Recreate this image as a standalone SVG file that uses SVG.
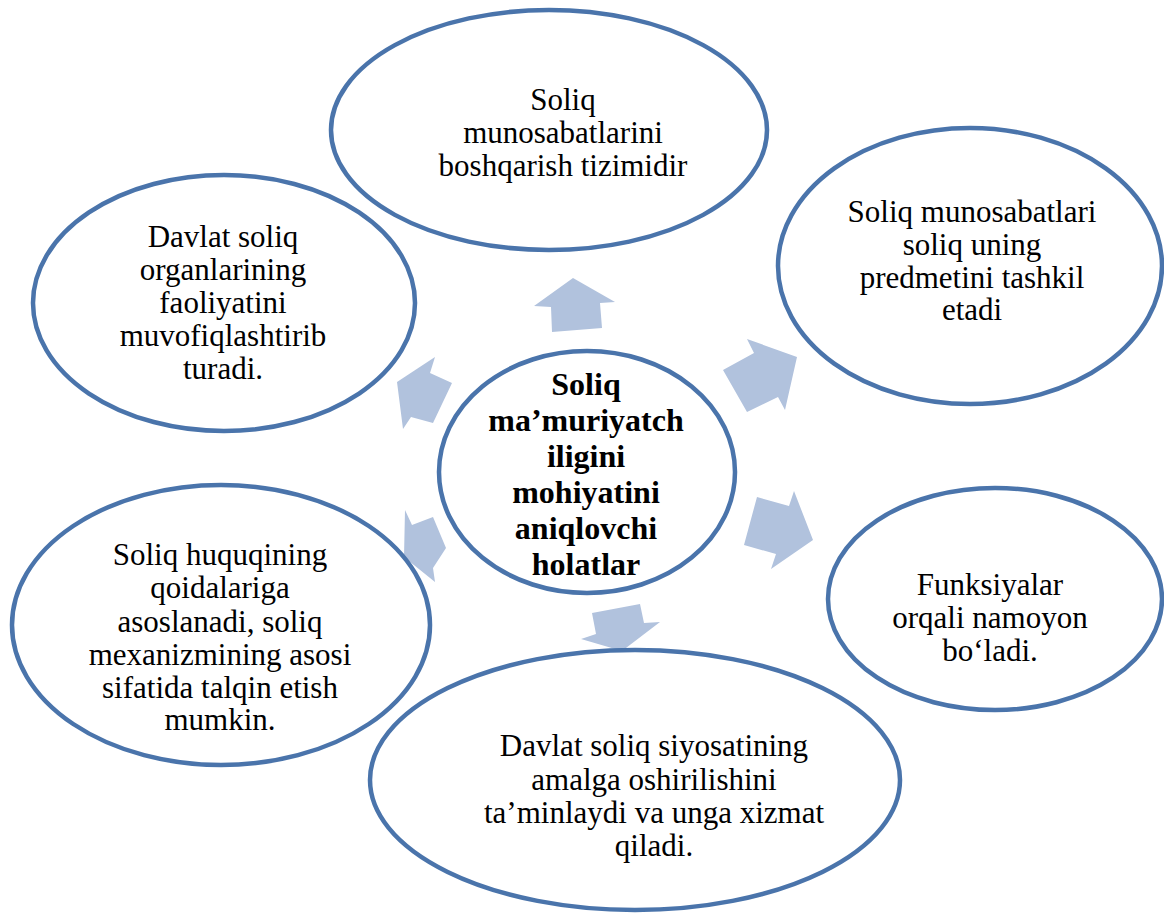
<svg xmlns="http://www.w3.org/2000/svg" width="1164" height="913" viewBox="0 0 1164 913">
<style>
.e{fill:#ffffff;stroke:#4a74ab;stroke-width:4.5}
.a{fill:#b1c2dd;stroke:none}
.t{font-family:"Liberation Serif","Times New Roman",serif;font-size:31px;fill:#000;text-anchor:middle}
.b{font-family:"Liberation Serif","Times New Roman",serif;font-size:32px;font-weight:bold;fill:#000;text-anchor:middle}
</style>
<rect width="1164" height="913" fill="#ffffff"/>
<g id="connectors">
<polygon class="a" points="573,278 615,302 600,303 602,328 552,332 551,307 534,306"/>
<polygon class="a" points="797,357 785,410 778,397 747,412 723,370 754,353 747,339"/>
<polygon class="a" points="813,540 771,569 776,554 744,545 757,497 789,506 794,491"/>
<polygon class="a" points="622,651 660,622 644,623 640,604 592,613 596,634 581,639"/>
<polygon class="a" points="404,557 435,582 433,568 446,548 433,517 412,525 405,510"/>
<polygon class="a" points="397,382 403,429 411,417 433,423 452,383 430,373 435,357"/>
</g>
<g id="node-top">
<ellipse class="e" cx="549" cy="130" rx="218" ry="120"/>
<text class="t" x="563" y="110">Soliq</text>
<text class="t" x="563" y="143">munosabatlarini</text>
<text class="t" x="563" y="176">boshqarish tizimidir</text>
</g>
<g id="node-top-right">
<ellipse class="e" cx="970" cy="266" rx="192" ry="138"/>
<text class="t" x="972" y="222">Soliq munosabatlari</text>
<text class="t" x="972" y="255">soliq uning</text>
<text class="t" x="972" y="288">predmetini tashkil</text>
<text class="t" x="972" y="320">etadi</text>
</g>
<g id="node-right">
<ellipse class="e" cx="995" cy="599" rx="167" ry="111"/>
<text class="t" x="990" y="595">Funksiyalar</text>
<text class="t" x="990" y="628">orqali namoyon</text>
<text class="t" x="990" y="661">bo‘ladi.</text>
</g>
<g id="node-bottom">
<ellipse class="e" cx="635" cy="780" rx="265" ry="130"/>
<text class="t" x="654" y="756">Davlat soliq siyosatining</text>
<text class="t" x="654" y="790">amalga oshirilishini</text>
<text class="t" x="654" y="823">ta’minlaydi va unga xizmat</text>
<text class="t" x="654" y="856">qiladi.</text>
</g>
<g id="node-bottom-left">
<ellipse class="e" cx="221" cy="625" rx="209" ry="140"/>
<text class="t" x="220" y="565">Soliq huquqining</text>
<text class="t" x="220" y="598">qoidalariga</text>
<text class="t" x="220" y="632">asoslanadi, soliq</text>
<text class="t" x="220" y="665">mexanizmining asosi</text>
<text class="t" x="220" y="698">sifatida talqin etish</text>
<text class="t" x="220" y="730">mumkin.</text>
</g>
<g id="node-top-left">
<ellipse class="e" cx="224" cy="303" rx="191" ry="128"/>
<text class="t" x="223" y="247">Davlat soliq</text>
<text class="t" x="223" y="280">organlarining</text>
<text class="t" x="223" y="313">faoliyatini</text>
<text class="t" x="223" y="346">muvofiqlashtirib</text>
<text class="t" x="223" y="379">turadi.</text>
</g>
<g id="node-center">
<ellipse class="e" cx="587" cy="472" rx="148" ry="121"/>
<text class="b" x="586" y="395">Soliq</text>
<text class="b" x="586" y="431">ma’muriyatch</text>
<text class="b" x="586" y="467">iligini</text>
<text class="b" x="586" y="503">mohiyatini</text>
<text class="b" x="586" y="539">aniqlovchi</text>
<text class="b" x="586" y="575">holatlar</text>
</g>
</svg>
